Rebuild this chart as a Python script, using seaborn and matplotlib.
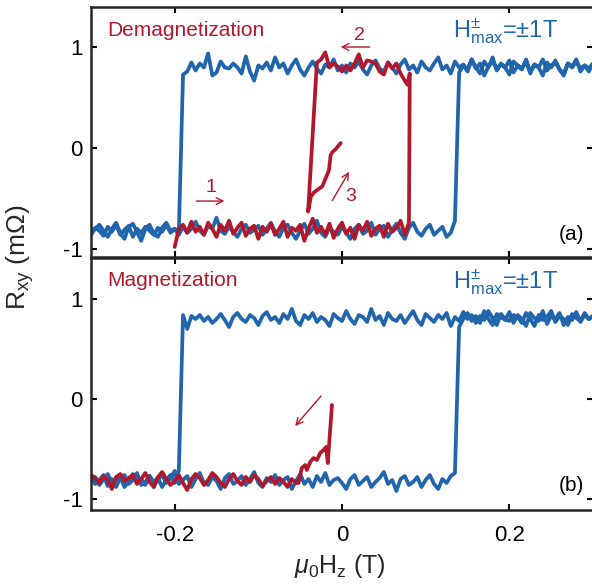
import numpy as np
import pandas as pd
import matplotlib
matplotlib.use("Agg")
import matplotlib.pyplot as plt
import seaborn as sns

# ---------------- data ----------------
H = [-0.300, -0.295, -0.290, -0.285, -0.280, -0.275, -0.270, -0.265, -0.260, -0.255,
     -0.250, -0.245, -0.240, -0.235, -0.230, -0.225, -0.220, -0.215, -0.210, -0.205,
     -0.200, -0.195, -0.190, -0.185, -0.180, -0.175, -0.170, -0.165, -0.160, -0.155,
     -0.150, -0.145, -0.140, -0.135, -0.130, -0.125, -0.120, -0.115, -0.110, -0.105,
     -0.100, -0.095, -0.090, -0.085, -0.080, -0.075, -0.070, -0.065, -0.060, -0.055,
     -0.050, -0.045, -0.040, -0.035, -0.030, -0.025, -0.020, -0.015, -0.010, -0.005,
     0.000, 0.005, 0.010, 0.015, 0.020, 0.025, 0.030, 0.035, 0.040, 0.045,
     0.050, 0.055, 0.060, 0.065, 0.070, 0.075, 0.080, 0.085, 0.090, 0.095,
     0.100, 0.105, 0.110, 0.115, 0.120, 0.125, 0.130, 0.135, 0.140, 0.145,
     0.150, 0.155, 0.160, 0.165, 0.170, 0.175, 0.180, 0.185, 0.190, 0.195,
     0.200, 0.205, 0.210, 0.215, 0.220, 0.225, 0.230, 0.235, 0.240, 0.245,
     0.250, 0.255, 0.260, 0.265, 0.270, 0.275, 0.280, 0.285, 0.290, 0.295,
     0.300]

# (a) blue loop, up-sweep (values on H, left to right)
a_up = [-0.86, -0.80, -0.76, -0.82, -0.88, -0.80, -0.74, -0.84, -0.90, -0.78,
        -0.75, -0.83, -0.92, -0.80, -0.76, -0.85, -0.88, -0.79, -0.74, -0.82,
        -0.80, -0.86, -0.78, -0.84, -0.80, -0.73, -0.82, -0.86, -0.77, -0.80,
        -0.69, -0.82, -0.85, -0.78, -0.83, -0.88, -0.80, -0.76, -0.84, -0.81,
        -0.77, -0.86, -0.80, -0.74, -0.83, -0.88, -0.79, -0.76, -0.84, -0.90,
        -0.82, -0.75, -0.85, -0.80, -0.72, -0.84, -0.88, -0.79, -0.83, -0.86,
        -0.78, -0.84, -0.90, -0.80, -0.76, -0.85, -0.82, -0.74, -0.86, -0.80,
        -0.77, -0.88, -0.81, -0.75, -0.84, -0.90, -0.79, -0.74, -0.83, -0.87,
        -0.80, -0.76, -0.86, -0.82, -0.78, -0.88, -0.84, -0.72,
        0.75, 0.82, 0.78, 0.88, 0.80, 0.74, 0.86, 0.80, 0.90, 0.77,
        0.84, 0.80, 0.73, 0.86, 0.82, 0.78, 0.88, 0.76, 0.83, 0.80,
        0.72, 0.85, 0.80, 0.87, 0.78, 0.74, 0.84, 0.81, 0.88, 0.76,
        0.82, 0.79, 0.84]
# (a) blue loop, down-sweep (values on H, listed left to right)
a_dn = [-0.84, -0.79, -0.82, -0.87, -0.78, -0.83, -0.76, -0.86, -0.81, -0.77,
        -0.88, -0.80, -0.84, -0.78, -0.82, -0.86, -0.79, -0.83, -0.76, -0.84,
        -0.80, -0.83,
        0.73, 0.76, 0.85, 0.77, 0.84, 0.80, 0.94, 0.72, 0.75, 0.86,
        0.80, 0.79, 0.84, 0.80, 0.74, 0.91, 0.76, 0.67, 0.82, 0.79,
        0.85, 0.77, 0.90, 0.80, 0.84, 0.74, 0.82, 0.88, 0.78, 0.72,
        0.80, 0.86, 0.79, 0.74, 0.83, 0.80, 0.88, 0.77, 0.82, 0.75,
        0.84, 0.80, 0.86, 0.78, 0.73, 0.82, 0.87, 0.79, 0.76, 0.85,
        0.80, 0.74, 0.83, 0.88, 0.78, 0.82, 0.75, 0.86, 0.80, 0.77,
        0.84, 0.90, 0.78, 0.82, 0.74, 0.86, 0.80, 0.83, 0.76, 0.88,
        0.79, 0.84, 0.72, 0.81, 0.86, 0.78, 0.83, 0.80, 0.87, 0.75,
        0.82, 0.79, 0.86, 0.74, 0.83, 0.80, 0.88, 0.77, 0.82, 0.85,
        0.78, 0.72, 0.84, 0.80, 0.86, 0.79, 0.82, 0.76, 0.84]

# (b) blue loop
b_up = [-0.82, -0.78, -0.86, -0.80, -0.75, -0.84, -0.88, -0.79, -0.76, -0.85,
        -0.81, -0.74, -0.86, -0.83, -0.77, -0.88, -0.80, -0.76, -0.84, -0.79,
        -0.72, -0.85, -0.81, -0.77, -0.88, -0.80, -0.74, -0.84, -0.86, -0.78,
        -0.82, -0.90, -0.79, -0.75, -0.85, -0.82, -0.77, -0.86, -0.80, -0.73,
        -0.84, -0.88, -0.79, -0.83, -0.76, -0.86, -0.81, -0.78, -0.90, -0.82,
        -0.75, -0.85, -0.80, -0.88, -0.77, -0.83, -0.74, -0.86, -0.81, -0.79,
        -0.84, -0.90, -0.80, -0.76, -0.86, -0.82, -0.78, -0.88, -0.83, -0.79,
        -0.73, -0.85, -0.81, -0.92, -0.80, -0.77, -0.86, -0.83, -0.78, -0.88,
        -0.81, -0.76, -0.85, -0.90, -0.80, -0.84, -0.77, -0.74,
        0.72, 0.80, 0.86, 0.78, 0.83, 0.76, 0.88, 0.80, 0.74, 0.85,
        0.82, 0.79, 0.87, 0.76, 0.84, 0.80, 0.73, 0.86, 0.81, 0.78,
        0.88, 0.75, 0.83, 0.80, 0.86, 0.74, 0.82, 0.79, 0.87, 0.77,
        0.84, 0.80, 0.83]
b_dn = [-0.79, -0.85, -0.81, -0.76, -0.87, -0.80, -0.84, -0.78, -0.88, -0.82,
        -0.75, -0.84, -0.80, -0.86, -0.77, -0.83, -0.79, -0.88, -0.81, -0.76,
        -0.84, -0.71,
        0.84, 0.70, 0.83, 0.80, 0.84, 0.78, 0.82, 0.76, 0.80, 0.85,
        0.79, 0.72, 0.82, 0.86, 0.80, 0.77, 0.84, 0.81, 0.74, 0.83,
        0.87, 0.79, 0.82, 0.76, 0.85, 0.80, 0.90, 0.78, 0.74, 0.84,
        0.80, 0.86, 0.77, 0.82, 0.79, 0.73, 0.85, 0.81, 0.78, 0.88,
        0.80, 0.75, 0.84, 0.82, 0.77, 0.90, 0.79, 0.83, 0.74, 0.86,
        0.80, 0.78, 0.84, 0.76, 0.82, 0.88, 0.79, 0.74, 0.85, 0.81,
        0.77, 0.84, 0.80, 0.86, 0.73, 0.82, 0.78, 0.87, 0.80, 0.84,
        0.76, 0.83, 0.79, 0.88, 0.81, 0.74, 0.85, 0.80, 0.78, 0.84,
        0.82, 0.76, 0.86, 0.80, 0.73, 0.84, 0.79, 0.82, 0.88, 0.77,
        0.83, 0.80, 0.74, 0.85, 0.81, 0.78, 0.86, 0.80, 0.83]

# (a) red demagnetization path
red_a_start = [(-0.200, -0.98)]
red_a_low = [-0.80, -0.76, -0.84, -0.73, -0.83, -0.78, -0.86, -0.74, -0.80, -0.88,
             -0.76, -0.82, -0.72, -0.85, -0.79, -0.74, -0.87, -0.80, -0.77, -0.90,
             -0.78, -0.83, -0.75, -0.86, -0.80, -0.73, -0.88, -0.79, -0.82, -0.76,
             -0.92, -0.80, -0.70, -0.84, -0.78, -0.86, -0.75, -0.89, -0.80, -0.74,
             -0.85, -0.79, -0.90, -0.76, -0.82, -0.73, -0.87, -0.80, -0.77, -0.88,
             -0.75, -0.83, -0.79, -0.72, -0.86, -0.74]          # H = -0.195 ... 0.080
red_a_turn = [(0.081, 0.74), (0.078, 0.63)]
red_a_high = [0.67, 0.74, 0.84, 0.79, 0.85, 0.73, 0.76, 0.84, 0.86, 0.87,
              0.80, 0.93, 0.84, 0.77, 0.82, 0.76, 0.81, 0.84, 0.80, 0.95,
              0.88, 0.85]                                          # H = 0.075 ... -0.030
red_a_x3 = [-0.0405, -0.0372, -0.0336, -0.0288, -0.0236, -0.0196, -0.0156, -0.0136, -0.0116, -0.0076, -0.0016]
red_a_y3 = [-0.63, -0.48, -0.44, -0.41, -0.38, -0.30, -0.22, -0.07, -0.04, -0.01, 0.05]

# (b) red magnetization path
red_b_low = [-0.76, -0.79, -0.84, -0.77, -0.81, -0.90, -0.78, -0.75, -0.82, -0.79,
             -0.76, -0.85, -0.80, -0.74, -0.83, -0.88, -0.78, -0.73, -0.80, -0.86,
             -0.82, -0.76, -0.84, -0.91, -0.80, -0.75, -0.79, -0.86, -0.81, -0.74,
             -0.78, -0.84, -0.88, -0.80, -0.75, -0.82, -0.86, -0.78, -0.83, -0.76,
             -0.80, -0.87, -0.82, -0.78, -0.85, -0.79, -0.83, -0.88, -0.80, -0.84]  # H = -0.300 ... -0.055
red_b_xr = [-0.052, -0.048, -0.044, -0.042, -0.038, -0.034, -0.030, -0.026, -0.022, -0.019, -0.017, -0.012]
red_b_yr = [-0.84, -0.69, -0.66, -0.71, -0.63, -0.59, -0.61, -0.54, -0.51, -0.48, -0.64, -0.06]

yticks = [-1, 0, 1]
xticks = [-0.2, 0, 0.2]
xticklabels = ["-0.2", "0", "0.2"]
yticklabels = ["-1", "0", "1"]

BLUE = "#2166AC"
RED = "#B2182B"

# ---------------- build paths ----------------
def loop(up, dn):
    x = list(H) + list(H[::-1])
    y = list(up) + list(dn[::-1])
    return pd.DataFrame({"H": x, "R": y, "order": range(len(x))})

df_a_blue = loop(a_up, a_dn)
df_b_blue = loop(b_up, b_dn)

xa = [p[0] for p in red_a_start] + H[21:77] + [p[0] for p in red_a_turn] + H[54:76][::-1] + red_a_x3
ya = [p[1] for p in red_a_start] + red_a_low + [p[1] for p in red_a_turn] + red_a_high + red_a_y3
df_a_red = pd.DataFrame({"H": xa, "R": ya, "order": range(len(xa))})

xb = H[0:50] + red_b_xr
yb = red_b_low + red_b_yr
df_b_red = pd.DataFrame({"H": xb, "R": yb, "order": range(len(xb))})

# ---------------- plot ----------------
sns.set_theme(style="ticks")
plt.rcParams["font.family"] = ["Liberation Sans", "DejaVu Sans"]
plt.rcParams["mathtext.fontset"] = "custom"
plt.rcParams["mathtext.rm"] = "Liberation Sans"
plt.rcParams["mathtext.it"] = "Liberation Sans:italic"
plt.rcParams["mathtext.bf"] = "Liberation Sans:bold"
plt.rcParams["axes.unicode_minus"] = False

fig = plt.figure(figsize=(5.92, 5.85), dpi=100)
axA = fig.add_axes([91 / 592, (585 - 257) / 585, 502 / 592, 250 / 585])
axB = fig.add_axes([91 / 592, (585 - 510) / 585, 502 / 592, 252 / 585])

LW = 2.7
for ax, dfb, dfr in [(axA, df_a_blue, df_a_red), (axB, df_b_blue, df_b_red)]:
    sns.lineplot(data=dfb, x="H", y="R", sort=False, estimator=None, color=BLUE, lw=LW, ax=ax)
    sns.lineplot(data=dfr, x="H", y="R", sort=False, estimator=None, color=RED, lw=LW, ax=ax)
    ax.set_xlim(-0.3, 0.3)
    ax.set_ylabel("")
    ax.set_xlabel("")
    ax.set_yticks(yticks)
    ax.set_yticklabels(yticklabels)
    ax.set_xticks(xticks)
    for s in ax.spines.values():
        s.set_linewidth(1.8)
        s.set_visible(True)
    ax.tick_params(direction="in", length=4.5, width=1.5, top=True, right=True,
                   labelsize=16, colors="black")
    ax.tick_params(axis="y", pad=6)
    ax.tick_params(axis="x", pad=11)

axA.set_ylim(-1.08, 1.4)
axB.set_ylim(-1.11, 1.41)
axA.set_xticklabels([])
axB.set_xticklabels(xticklabels)

txt_kw = dict(fontsize=15)
axA.text(0.032, 0.908, "Demagnetization", color=RED, transform=axA.transAxes, va="center", ha="left", **txt_kw)
axB.text(0.032, 0.909, "Magnetization", color=RED, transform=axB.transAxes, va="center", ha="left", **txt_kw)
hm = r"H$^{\pm}_{\mathrm{max}}$=$\pm$1T"
axA.text(0.722, 0.905, hm, color=BLUE, transform=axA.transAxes, va="center", ha="left", fontsize=17)
axB.text(0.722, 0.905, hm, color=BLUE, transform=axB.transAxes, va="center", ha="left", fontsize=17)
axA.text(0.932, 0.088, "(a)", color="black", transform=axA.transAxes, va="center", ha="left", **txt_kw)
axB.text(0.932, 0.099, "(b)", color="black", transform=axB.transAxes, va="center", ha="left", **txt_kw)

arr = dict(arrowstyle="->", color=RED, lw=1.0, shrinkA=0, shrinkB=0)
axA.annotate("", xy=(-0.1405, -0.525), xytext=(-0.174, -0.525), arrowprops=arr)
axA.text(-0.157, -0.39, "1", color=RED, fontsize=14, ha="center", va="center")
axA.annotate("", xy=(-0.0016, 1.003), xytext=(0.033, 1.003), arrowprops=arr)
axA.text(0.0204, 1.12, "2", color=RED, fontsize=14, ha="center", va="center")
axA.annotate("", xy=(0.0084, -0.235), xytext=(-0.0116, -0.52), arrowprops=arr)
axA.text(0.0104, -0.48, "3", color=RED, fontsize=14, ha="center", va="center")
axB.annotate("", xy=(-0.056, -0.27), xytext=(-0.025, 0.03), arrowprops=arr)

fig.text(20 / 592, 1 - 257 / 585, r"R$_{\mathrm{xy}}$ (m$\Omega$)", rotation=90,
         ha="center", va="center", fontsize=19)
fig.text(340 / 592, 1 - 566 / 585, r"$\mu_0$H$_\mathrm{z}$ (T)", ha="center", va="center", fontsize=18)

fig.savefig("out.png", dpi=100)
